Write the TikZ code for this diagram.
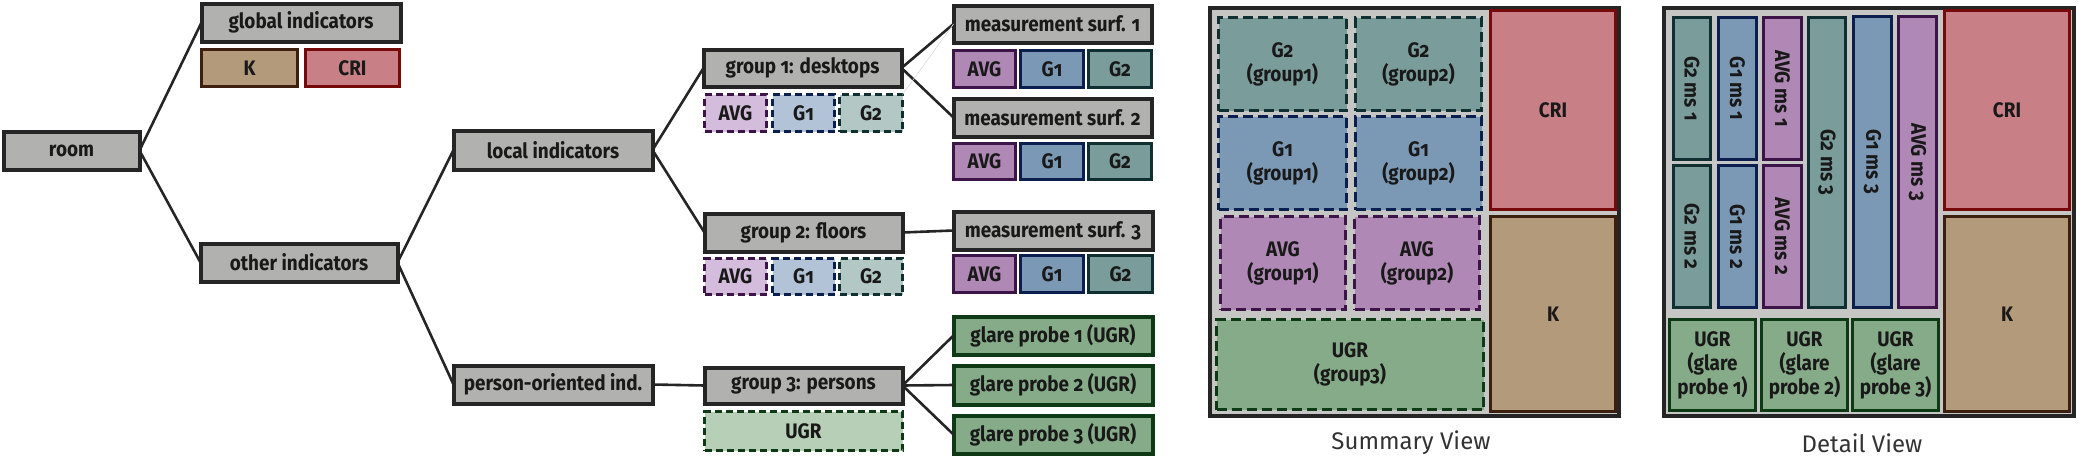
\documentclass[tikz,border=0pt]{standalone}
\usepackage{fontspec}
\setmainfont{Fira Sans}[Numbers=OldStyle]
\newfontfamily\nfont{Fira Sans}[Numbers=OldStyle,FakeStretch=0.9]
\newfontfamily\lfont{Fira Sans}
\definecolor{ngray}{HTML}{B1B2AF}
\definecolor{nbord}{HTML}{252525}
\definecolor{bggray}{HTML}{C6C6C4}
\definecolor{kfill}{HTML}{B39A7A}
\definecolor{kbord}{HTML}{3D1F0F}
\definecolor{cfill}{HTML}{C87F86}
\definecolor{cbord}{HTML}{760A0A}
\definecolor{afill}{HTML}{B088B5}
\definecolor{abord}{HTML}{3C1448}
\definecolor{onefill}{HTML}{7B98B5}
\definecolor{onebord}{HTML}{0B1F4F}
\definecolor{twofill}{HTML}{7A9C9B}
\definecolor{twobord}{HTML}{0F2F30}
\definecolor{alight}{HTML}{D4BCDC}
\definecolor{onelight}{HTML}{B3C3D7}
\definecolor{twolight}{HTML}{B3C8C4}
\definecolor{gfill}{HTML}{85AB88}
\definecolor{gbord}{HTML}{0D3A14}
\definecolor{glight}{HTML}{B6CFB6}
\newcommand\bx[7]{\node[#6, minimum width={(#4-#2)*0.5pt-1.5pt}, minimum height={(#5-#3)*0.5pt-1.5pt}] (#1) at ({(#2+#4)/2},{(#3+#5)/2}) {#7};}
\newcommand\bxr[7]{\node[#6, rotate=-90, minimum height={(#4-#2)*0.5pt-1.5pt}, minimum width={(#5-#3)*0.5pt-1.5pt}] (#1) at ({(#2+#4)/2},{(#3+#5)/2}) {#7};}
\tikzset{
  base/.style={rectangle, inner sep=0pt, outer sep=0pt, align=center, text=black!90,
    font=\nfont\bfseries\fontsize{10.5pt}{12pt}\selectfont},
  graynode/.style={base, fill=ngray, draw=nbord, line width=2pt},
  kbox/.style={base, fill=kfill, draw=kbord, line width=1.3pt},
  cbox/.style={base, fill=cfill, draw=cbord, line width=1.3pt},
  abox/.style={base, fill=afill, draw=abord, line width=1.3pt},
  onebox/.style={base, fill=onefill, draw=onebord, line width=1.3pt},
  twobox/.style={base, fill=twofill, draw=twobord, line width=1.3pt},
  gbox/.style={base, fill=gfill, draw=gbord, line width=2pt},
  gsbox/.style={base, fill=gfill, draw=gbord, line width=1.5pt},
  dsh/.style={line width=1.4pt, dash pattern=on 3.5pt off 2pt},
  bdsh/.style={line width=1.4pt, dash pattern=on 5pt off 2.5pt},
  frame/.style={fill=bggray, draw=nbord, line width=2pt},
  conn/.style={draw=nbord, line width=1.3pt},
  viewlabel/.style={font=\lfont\fontsize{12pt}{14pt}\selectfont, text=black!80, inner sep=0pt},
}
\begin{document}
\begin{tikzpicture}[x=0.5pt,y=-0.5pt]
\useasboundingbox (0,0) rectangle (2084,461);
% ---- left column
\bx{room}{2}{130}{141}{171}{graynode}{room}
\bx{glob}{200}{2}{402}{43}{graynode}{global indicators}
\bx{kk}{200}{48}{299}{88}{kbox}{K}
\bx{cri}{304}{48}{401}{88}{cbox}{CRI}
\bx{other}{199}{242}{399}{283}{graynode}{other indicators}
\bx{local}{452}{129}{654}{171}{graynode}{local indicators}
\bx{person}{452}{364}{654}{405}{graynode}{person-oriented ind.}
% ---- groups
\bx{ga}{702}{48}{903}{88}{graynode}{group 1: desktops}
\bx{gaavg}{703}{93}{768}{133}{base,fill=alight,draw=abord,dsh}{AVG}
\bx{gaone}{771}{93}{836}{133}{base,fill=onelight,draw=onebord,dsh}{G1}
\bx{gatwo}{838}{93}{904}{133}{base,fill=twolight,draw=twobord,dsh}{G2}
\bx{gb}{703}{212}{904}{253}{graynode}{group 2: floors}
\bx{gbavg}{703}{257}{768}{296}{base,fill=alight,draw=abord,dsh}{AVG}
\bx{gbone}{771}{257}{836}{296}{base,fill=onelight,draw=onebord,dsh}{G1}
\bx{gbtwo}{838}{257}{904}{296}{base,fill=twolight,draw=twobord,dsh}{G2}
\bx{gc}{703}{366}{904}{405}{graynode}{group 3: persons}
\bx{gcugr}{703}{410}{904}{452}{base,fill=glight,draw=gbord,dsh}{UGR}
% ---- measurement surfaces
\bx{msa}{952}{4}{1153}{44}{graynode}{measurement surf. 1}
\bx{msaavg}{952}{49}{1017}{89}{abox}{AVG}
\bx{msaone}{1019}{49}{1085}{89}{onebox}{G1}
\bx{msatwo}{1087}{49}{1153}{89}{twobox}{G2}
\bx{msb}{952}{97}{1153}{138}{graynode}{measurement surf. 2}
\bx{msbavg}{952}{142}{1017}{181}{abox}{AVG}
\bx{msbone}{1019}{142}{1085}{181}{onebox}{G1}
\bx{msbtwo}{1087}{142}{1153}{181}{twobox}{G2}
\bx{msc}{952}{210}{1154}{251}{graynode}{measurement surf. 3}
\bx{mscavg}{952}{254}{1017}{294}{abox}{AVG}
\bx{mscone}{1019}{254}{1085}{294}{onebox}{G1}
\bx{msctwo}{1087}{254}{1154}{294}{twobox}{G2}
\bx{gpa}{952}{315}{1154}{356}{gbox}{glare probe 1 (UGR)}
\bx{gpb}{952}{364}{1154}{406}{gbox}{glare probe 2 (UGR)}
\bx{gpc}{952}{414}{1154}{455}{gbox}{glare probe 3 (UGR)}
% ---- connectors
\draw[conn] (room.east) -- (glob.west);
\draw[conn] (room.east) -- (other.west);
\draw[conn] (other.east) -- (local.west);
\draw[conn] (other.east) -- (person.west);
\draw[conn] (local.east) -- (ga.west);
\draw[conn] (local.east) -- (gb.west);
\draw[conn] (person.east) -- (gc.west);
\draw[conn] (ga.east) -- (msa.west);
\draw[conn] (ga.east) -- (msb.west);
\draw[draw=black!15, line width=0.3pt] (msa.west) -- (gatwo.north east);
\draw[conn] (gb.east) -- (msc.west);
\draw[conn] (gc.east) -- (gpa.west);
\draw[conn] (gc.east) -- (gpb.west);
\draw[conn] (gc.east) -- (gpc.west);
% ---- summary view
\bx{sframe}{1208}{6}{1620}{417}{base,frame}{}
\bx{scri}{1489}{9}{1617}{211}{cbox}{CRI}
\bx{sk}{1489}{215}{1617}{413}{kbox}{K}
\bx{stwoa}{1217}{16}{1348}{112}{base,fill=twofill,draw=twobord,bdsh}{G2\\(group1)}
\bx{stwob}{1354}{16}{1483}{112}{base,fill=twofill,draw=twobord,bdsh}{G2\\(group2)}
\bx{sonea}{1217}{115}{1348}{211}{base,fill=onefill,draw=onebord,bdsh}{G1\\(group1)}
\bx{soneb}{1354}{115}{1483}{211}{base,fill=onefill,draw=onebord,bdsh}{G1\\(group2)}
\bx{savga}{1219}{215}{1347}{311}{base,fill=afill,draw=abord,bdsh}{AVG\\(group1)}
\bx{savgb}{1353}{215}{1481}{311}{base,fill=afill,draw=abord,bdsh}{AVG\\(group2)}
\bx{sugr}{1215}{318}{1485}{411}{base,fill=gfill,draw=gbord,bdsh}{UGR\\(group3)}
\node[viewlabel] (slabel) at (1411,443) {Summary View};
% ---- detail view
\bx{dframe}{1662}{6}{2075}{417}{base,frame}{}
\bx{dcri}{1943}{9}{2071}{211}{cbox}{CRI}
\bx{dk}{1943}{215}{2071}{413}{kbox}{K}
\bxr{dtwoa}{1672}{16}{1712}{161}{twobox}{G2 ms 1}
\bxr{donea}{1717}{16}{1758}{161}{onebox}{G1 ms 1}
\bxr{davga}{1762}{16}{1803}{161}{abox}{AVG ms 1}
\bxr{dtwob}{1672}{164}{1712}{309}{twobox}{G2 ms 2}
\bxr{doneb}{1717}{164}{1758}{309}{onebox}{G1 ms 2}
\bxr{davgb}{1762}{164}{1803}{309}{abox}{AVG ms 2}
\bxr{dtwoc}{1807}{16}{1847}{309}{twobox}{G2 ms 3}
\bxr{donec}{1852}{15}{1893}{309}{onebox}{G1 ms 3}
\bxr{davgc}{1897}{15}{1938}{309}{abox}{AVG ms 3}
\bx{dugra}{1668}{318}{1757}{412}{gsbox}{UGR\\(glare\\probe 1)}
\bx{dugrb}{1760}{318}{1849}{412}{gsbox}{UGR\\(glare\\probe 2)}
\bx{dugrc}{1851}{318}{1940}{412}{gsbox}{UGR\\(glare\\probe 3)}
\node[viewlabel] (dlabel) at (1862,443) {Detail View};
\end{tikzpicture}
\end{document}
